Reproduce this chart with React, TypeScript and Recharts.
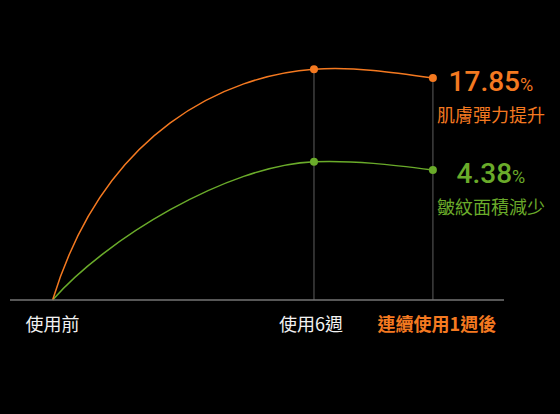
import React from "react";
import {
  LineChart,
  Line,
  XAxis,
  YAxis,
  ReferenceLine,
  LabelList,
} from "recharts";

// stage positions along the x axis (read off the picture, not evenly spaced)
const stageX = [0, 100, 145.5];
const stageLabels = ["使用前", "使用6週", "連續使用1週後"];

// skin elasticity gain (%) and wrinkle area reduction (%)
const elasticity = [0, 18.55, 17.85];
const wrinkle = [0, 4.66, 4.38];

const seriesTitles = ["肌膚彈力提升", "皺紋面積減少"];

const ORANGE = "#f47920";
const GREEN = "#6aab2a";
const CJK = "'Noto Sans CJK TC', 'Noto Sans', sans-serif";
const NUM = "Roboto, 'Liberation Sans', sans-serif";

const data = stageX.map((s, i) => ({
  stage: s,
  elasticity: elasticity[i],
  wrinkle: wrinkle[i],
}));

// steep start, flat top — like a saturation curve
function riseCurve(startPull: number) {
  return (context: any) => {
    let px: number[] = [];
    let py: number[] = [];
    return {
      areaStart() {},
      areaEnd() {},
      lineStart() {
        px = [];
        py = [];
      },
      point(x: number, y: number) {
        px.push(+x);
        py.push(+y);
      },
      lineEnd() {
        const n = px.length;
        if (!n) return;
        context.moveTo(px[0], py[0]);
        if (n === 1) return;
        const sec: number[] = [];
        for (let i = 0; i < n - 1; i++) {
          sec.push((py[i + 1] - py[i]) / (px[i + 1] - px[i]));
        }
        const m: number[] = [sec[0] * startPull];
        for (let i = 1; i < n - 1; i++) {
          m.push((0.12 * (py[i + 1] - py[i - 1])) / (px[i + 1] - px[i - 1]));
        }
        m.push(n > 2 ? (3 * sec[n - 2] - m[n - 2]) / 2 : sec[0]);
        for (let i = 0; i < n - 1; i++) {
          const h = px[i + 1] - px[i];
          const a = i === 0 ? 0.2 : 1 / 3;
          context.bezierCurveTo(
            px[i] + a * h,
            py[i] + a * h * m[i],
            px[i + 1] - h / 3,
            py[i + 1] - (h / 3) * m[i + 1],
            px[i + 1],
            py[i + 1]
          );
        }
      },
    };
  };
}

const StageTick = (props: any) => {
  const { x, y, payload } = props;
  const idx = stageX.indexOf(payload.value);
  const last = idx === stageX.length - 1;
  const shift = [0, -3, 4][idx] || 0;
  return (
    <text
      x={x + shift}
      y={y}
      dy={31}
      textAnchor="middle"
      fontFamily={CJK}
      fontSize={18}
      fontWeight={last ? 700 : 400}
      fill={last ? ORANGE : "#f2f2f2"}
    >
      {stageLabels[idx]}
    </text>
  );
};

const makeDot = (color: string) => (p: any) => {
  if (p.index === 0) return <g key={`d-${p.index}`} />;
  return (
    <circle key={`d-${p.index}`} cx={p.cx} cy={p.cy} r={4} fill={color} stroke="none" />
  );
};

const makeEndLabel = (values: number[], title: string, color: string) => (p: any) => {
  if (p.index !== values.length - 1) return null;
  const x = (p.x ?? p.viewBox?.x) + 58;
  const y = p.y ?? p.viewBox?.y;
  return (
    <g>
      <text x={x} y={y + 13} textAnchor="middle" fill={color}>
        <tspan fontFamily={NUM} fontSize={28} fontWeight={500}>
          {values[values.length - 1].toFixed(2)}
        </tspan>
        <tspan fontFamily={NUM} fontSize={18}>
          %
        </tspan>
      </text>
      <text
        x={x}
        y={y + 44}
        textAnchor="middle"
        fontFamily={CJK}
        fontSize={18}
        fill={color}
      >
        {title}
      </text>
    </g>
  );
};

export default function App() {
  return (
    <div style={{ width: 560, height: 414, background: "#000" }}>
      <style>{"body{margin:0;background:#000}"}</style>
      <LineChart
        width={560}
        height={414}
        data={data}
        margin={{ top: 20, right: 56, bottom: 54, left: 10 }}
      >
        <XAxis
          type="number"
          dataKey="stage"
          domain={[-16.3, 172.7]}
          ticks={stageX}
          allowDataOverflow
          height={60}
          tickLine={false}
          tickSize={0}
          tickMargin={0}
          axisLine={{ stroke: "#747474", strokeWidth: 1.5 }}
          tick={<StageTick />}
        />
        <YAxis yAxisId="skin" hide domain={[0, 22.51]} />
        <YAxis yAxisId="wrinkle" hide domain={[0, 9.434]} />
        {stageX.slice(1).map((s, i) => (
          <ReferenceLine
            key={s}
            yAxisId="skin"
            segment={[
              { x: s, y: 0 },
              { x: s, y: elasticity[i + 1] },
            ]}
            stroke="#4f4f4f"
            strokeWidth={1.2}
          />
        ))}
        <Line
          yAxisId="wrinkle"
          dataKey="wrinkle"
          type={riseCurve(2.17) as any}
          stroke={GREEN}
          strokeWidth={1.5}
          dot={makeDot(GREEN)}
          activeDot={false}
          isAnimationActive={false}
        >
          <LabelList
            dataKey="wrinkle"
            content={makeEndLabel(wrinkle, seriesTitles[1], GREEN)}
          />
        </Line>
        <Line
          yAxisId="skin"
          dataKey="elasticity"
          type={riseCurve(3.7) as any}
          stroke={ORANGE}
          strokeWidth={1.5}
          dot={makeDot(ORANGE)}
          activeDot={false}
          isAnimationActive={false}
        >
          <LabelList
            dataKey="elasticity"
            content={makeEndLabel(elasticity, seriesTitles[0], ORANGE)}
          />
        </Line>
      </LineChart>
    </div>
  );
}
